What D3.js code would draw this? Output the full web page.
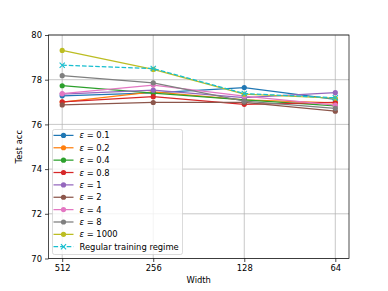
<!DOCTYPE html>
<html><head><meta charset="utf-8">
<script src="https://cdn.jsdelivr.net/npm/d3@7"></script>
<style>body{margin:0;background:#fff}svg{display:block}text{font-family:"DejaVu Sans",sans-serif}</style>
</head><body>
<svg id="c" width="388" height="291"></svg>
<script>
const widths = ["512", "256", "128", "64"];
const epsLabels = ["0.1", "0.2", "0.4", "0.8", "1", "2", "4", "8", "1000"];
const eps01 = [77.28, 77.41, 77.65, 77.12];
const eps02 = [77.0, 77.46, 77.1, 76.96];
const eps04 = [77.73, 77.4, 77.1, 76.83];
const eps08 = [77.01, 77.24, 76.9, 76.98];
const eps1 = [77.36, 77.53, 77.2, 77.42];
const eps2 = [76.87, 76.98, 76.98, 76.59];
const eps4 = [77.38, 77.76, 77.26, 76.86];
const eps8 = [78.18, 77.86, 77.04, 76.72];
const eps1000 = [79.31, 78.46, 77.35, 77.17];
const regular = [78.65, 78.5, 77.38, 77.19];
const regularLabel = "Regular training regime";
const yTicks = [70, 72, 74, 76, 78, 80];
const colors = ["#1f77b4","#ff7f0e","#2ca02c","#d62728","#9467bd","#8c564b","#e377c2","#7f7f7f","#bcbd22"];
const regColor = "#17becf";
const series = [eps01, eps02, eps04, eps08, eps1, eps2, eps4, eps8, eps1000];

const svg = d3.select("#c");
const L = 48.5, R = 349, T = 35, B = 258.5;
const x = d3.scalePoint().domain(widths).range([L + 13.7, R - 13.7]);
const y = d3.scaleLinear().domain([70, 80]).range([B, T]);

// grid
const g = svg.append("g");
g.selectAll(".vg").data(widths).join("line")
  .attr("x1", d => x(d)).attr("x2", d => x(d)).attr("y1", T).attr("y2", B)
  .attr("stroke", "#b0b0b0").attr("stroke-width", 0.7);
g.selectAll(".hg").data(yTicks).join("line")
  .attr("x1", L).attr("x2", R).attr("y1", d => y(d)).attr("y2", d => y(d))
  .attr("stroke", "#b0b0b0").attr("stroke-width", 0.7);

const line = d3.line().x((d, i) => x(widths[i])).y(d => y(d));
series.forEach((s, k) => {
  svg.append("path").attr("d", line(s)).attr("fill", "none")
    .attr("stroke", colors[k]).attr("stroke-width", 1.25);
  svg.selectAll(null).data(s).join("circle")
    .attr("cx", (d, i) => x(widths[i])).attr("cy", d => y(d)).attr("r", 2.6)
    .attr("fill", colors[k]);
});
svg.append("path").attr("d", line(regular)).attr("fill", "none")
  .attr("stroke", regColor).attr("stroke-width", 1.25).attr("stroke-dasharray", "4.6,2");
regular.forEach((d, i) => {
  const cx = x(widths[i]), cy = y(d), r = 2.6;
  svg.append("path").attr("d", `M${cx-r},${cy-r}L${cx+r},${cy+r}M${cx-r},${cy+r}L${cx+r},${cy-r}`)
    .attr("stroke", regColor).attr("stroke-width", 1.1);
});

// axes
const xa = svg.append("g").attr("transform", `translate(0,${B})`)
  .call(d3.axisBottom(x).tickSize(3.5).tickPadding(3));
const ya = svg.append("g").attr("transform", `translate(${L},0)`)
  .call(d3.axisLeft(y).tickValues(yTicks).tickFormat(d3.format("d")).tickSize(3.5).tickPadding(3));
[xa, ya].forEach(a => {
  a.select(".domain").remove();
  a.selectAll("line").attr("stroke", "#000").attr("stroke-width", 0.7);
  a.selectAll("text").attr("font-size", 8.4).attr("fill", "#000").attr("font-family", "DejaVu Sans");
});
svg.append("rect").attr("x", L).attr("y", T).attr("width", R - L).attr("height", B - T)
  .attr("fill", "none").attr("stroke", "#000").attr("stroke-width", 0.7);

svg.append("text").attr("x", (L + R) / 2).attr("y", 283).attr("text-anchor", "middle")
  .attr("font-size", 8.4).text("Width");
svg.append("text").attr("transform", `translate(22,${(T + B) / 2}) rotate(-90)`)
  .attr("text-anchor", "middle").attr("font-size", 8.4).text("Test acc");

// legend
const lg = svg.append("g");
lg.append("rect").attr("x", 52.5).attr("y", 129.5).attr("width", 130).attr("height", 125)
  .attr("rx", 2).attr("fill", "#fff").attr("fill-opacity", 0.8).attr("stroke", "#ccc").attr("stroke-width", 0.7);
const ly = i => 135.4 + i * 12.37;
epsLabels.forEach((e, i) => {
  lg.append("line").attr("x1", 53.5).attr("x2", 73.5).attr("y1", ly(i)).attr("y2", ly(i))
    .attr("stroke", colors[i]).attr("stroke-width", 1.25);
  lg.append("circle").attr("cx", 63.5).attr("cy", ly(i)).attr("r", 2.6).attr("fill", colors[i]);
  const t = lg.append("text").attr("x", 79.5).attr("y", ly(i) + 3).attr("font-size", 8.4);
  t.append("tspan").attr("font-style", "italic").text("ε");
  t.append("tspan").text(" = " + e);
});
const ri = 9;
lg.append("line").attr("x1", 53.5).attr("x2", 73.5).attr("y1", ly(ri)).attr("y2", ly(ri))
  .attr("stroke", regColor).attr("stroke-width", 1.25).attr("stroke-dasharray", "4.6,2");
{
  const cx = 63.5, cy = ly(ri), r = 2.6;
  lg.append("path").attr("d", `M${cx-r},${cy-r}L${cx+r},${cy+r}M${cx-r},${cy+r}L${cx+r},${cy-r}`)
    .attr("stroke", regColor).attr("stroke-width", 1.1);
}
lg.append("text").attr("x", 79.5).attr("y", ly(ri) + 3).attr("font-size", 8.4).text(regularLabel);
</script>
</body></html>
